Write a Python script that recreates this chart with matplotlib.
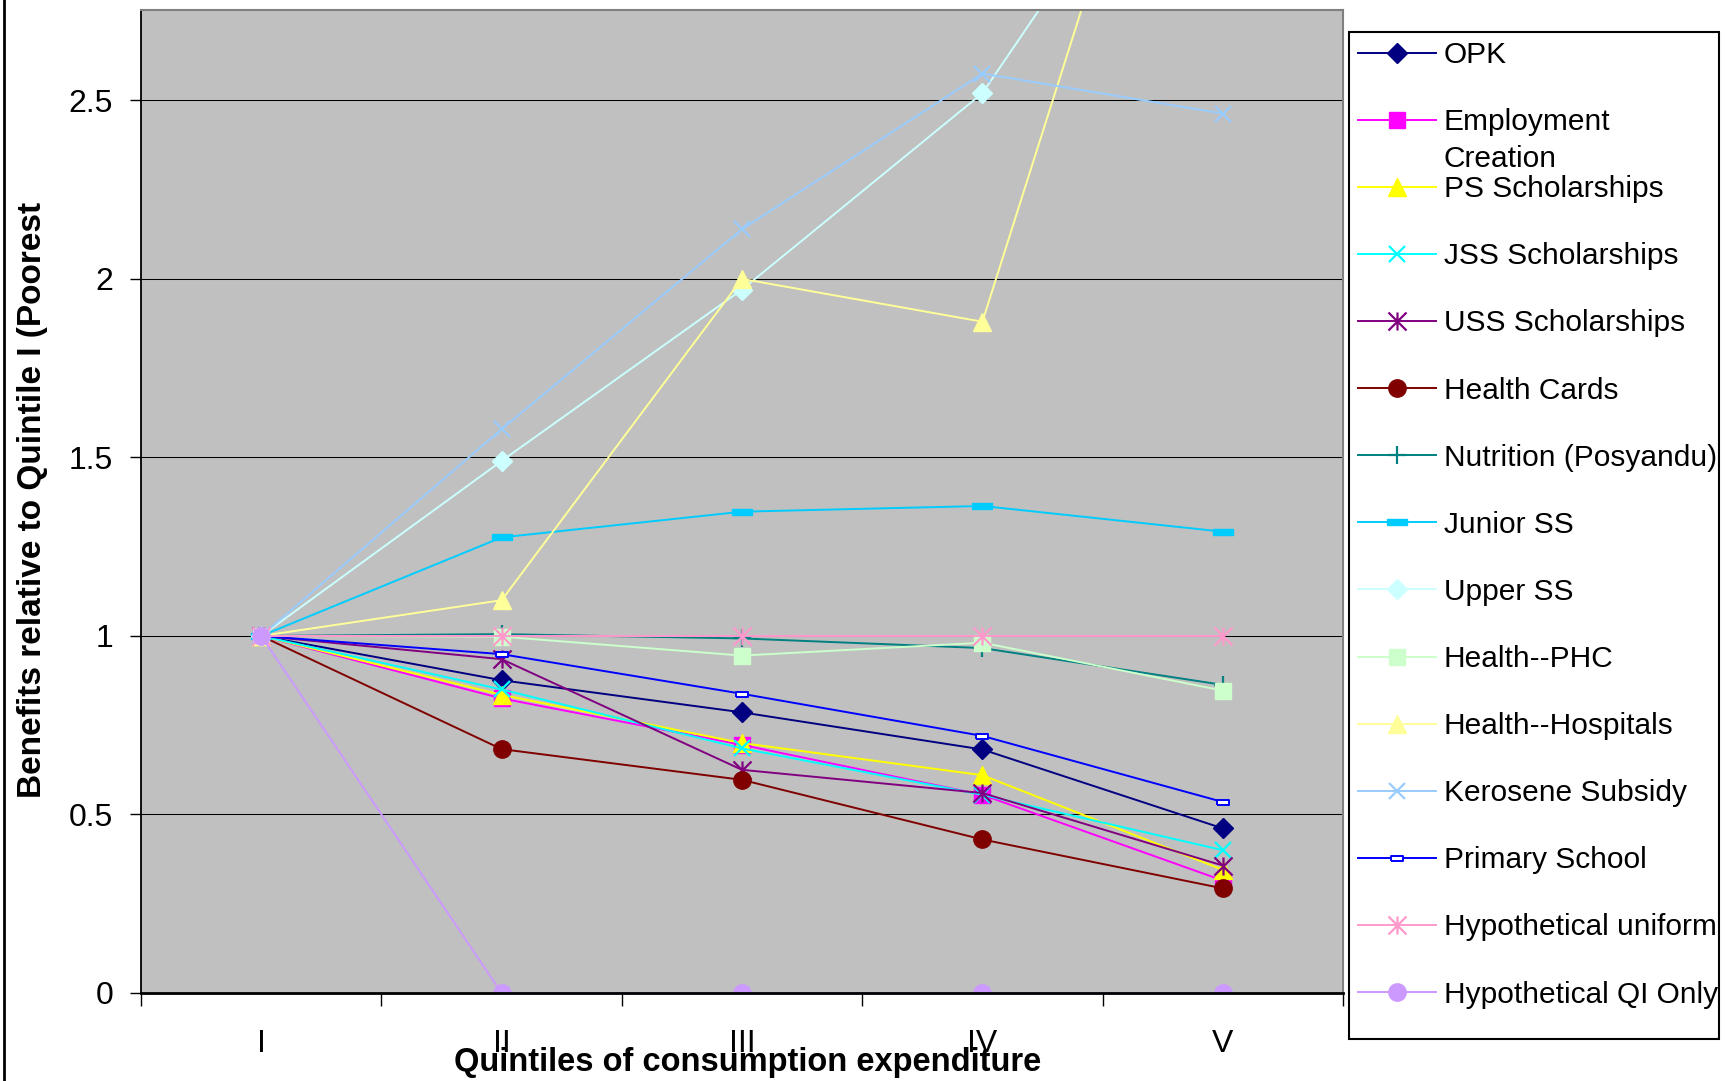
import matplotlib
matplotlib.use("Agg")
import matplotlib.pyplot as plt
from matplotlib.patches import Rectangle
from matplotlib.lines import Line2D
from matplotlib.path import Path
from matplotlib.text import Annotation

plt.rcParams['font.family'] = ['Liberation Sans', 'DejaVu Sans']

quintiles = ["I", "II", "III", "IV", "V"]

opk = [1, 0.876, 0.786, 0.682, 0.461]
employment = [1, 0.825, 0.695, 0.555, 0.315]
ps_schol = [1, 0.835, 0.70, 0.61, 0.345]
jss_schol = [1, 0.85, 0.685, 0.555, 0.40]
uss_schol = [1, 0.935, 0.625, 0.56, 0.357]
health_cards = [1, 0.683, 0.597, 0.43, 0.293]
nutrition = [1, 1.005, 0.993, 0.966, 0.863]
junior_ss = [1, 1.276, 1.348, 1.364, 1.292]
upper_ss = [1, 1.49, 1.97, 2.52, 3.51]
health_phc = [1, 0.998, 0.945, 0.981, 0.847]
health_hosp = [1, 1.10, 2.00, 1.88, 4.0]
kerosene = [1, 1.579, 2.139, 2.575, 2.463]
primary = [1, 0.949, 0.838, 0.72, 0.535]
hyp_uniform = [1, 1, 1, 1, 1]
hyp_qi_only = [1, 0, 0, 0, 0]

yticks = [0, 0.5, 1, 1.5, 2, 2.5]
ytick_labels = ["0", "0.5", "1", "1.5", "2", "2.5"]

# Excel-like markers
star = Path([(-0.5, -0.5), (0.5, 0.5), (-0.5, 0.5), (0.5, -0.5), (0, -0.5), (0, 0.5)],
            [Path.MOVETO, Path.LINETO, Path.MOVETO, Path.LINETO, Path.MOVETO, Path.LINETO])
bar = [(-1, -0.28), (1, -0.28), (1, 0.28), (-1, 0.28), (-1, -0.28)]
small_rect = [(-1, -0.45), (1, -0.45), (1, 0.45), (-1, 0.45), (-1, -0.45)]

# name, values, colour, marker, size, filled
series = [
    ("OPK", opk, "#000080", "D", 10, True),
    ("Employment\nCreation", employment, "#FF00FF", "s", 11.5, True),
    ("PS Scholarships", ps_schol, "#FFFF00", "^", 13, True),
    ("JSS Scholarships", jss_schol, "#00FFFF", "x", 12, False),
    ("USS Scholarships", uss_schol, "#800080", star, 13, False),
    ("Health Cards", health_cards, "#800000", "o", 12.5, True),
    ("Nutrition (Posyandu)", nutrition, "#008080", "+", 13, False),
    ("Junior SS", junior_ss, "#00CCFF", bar, 14, True),
    ("Upper SS", upper_ss, "#CCFFFF", "D", 10, True),
    ("Health--PHC", health_phc, "#CCFFCC", "s", 11.5, True),
    ("Health--Hospitals", health_hosp, "#FFFF99", "^", 13, True),
    ("Kerosene Subsidy", kerosene, "#99CCFF", "x", 12, False),
    ("Primary School", primary, "#0000FF", small_rect, 8, True),
    ("Hypothetical uniform", hyp_uniform, "#FF99CC", star, 13, False),
    ("Hypothetical QI Only", hyp_qi_only, "#CC99FF", "o", 12.5, True),
]

W, H = 1729, 1081
fig = plt.figure(figsize=(W / 100, H / 100), dpi=100)
ax = fig.add_axes([141 / W, 1 - 993 / H, (1343 - 141) / W, (993 - 10) / H])
ax.set_facecolor("#C0C0C0")

x = list(range(len(quintiles)))
handles = []
for name, vals, col, mk, ms, filled in series:
    kw = dict(color=col, lw=1.4, marker=mk, markersize=ms, mec=col)
    if filled:
        kw["mfc"] = col
        kw["mew"] = 1
    else:
        kw["mew"] = 1.6
    if name == "Primary School":
        kw["mfc"] = "white"
        kw["mew"] = 1.4
    ln, = ax.plot(x, vals, label=name, **kw)
    handles.append(ln)

ax.set_xlim(-0.5, len(quintiles) - 0.5)
ax.set_ylim(0, 2.753)
ax.set_xticks([i - 0.5 for i in range(len(quintiles) + 1)], labels=[])
ax.set_xticks(x, labels=quintiles, minor=True)
ax.tick_params(axis="x", which="major", length=9, width=1, direction="out")
ax.tick_params(axis="x", which="minor", length=0, pad=26, labelsize=23)
ax.set_yticks(yticks, labels=ytick_labels)
ax.tick_params(axis="y", length=8, width=1, pad=12, labelsize=23, direction="out")
ax.yaxis.grid(True, color="black", lw=0.75)
ax.set_axisbelow(True)
for s in ("top", "right"):
    ax.spines[s].set_color("#808080")
    ax.spines[s].set_linewidth(1.5)
ax.spines["left"].set_linewidth(1.3)
ax.spines["bottom"].set_linewidth(2)

fig.text(748 / W, 1 - 1071 / H, "Quintiles of consumption expenditure",
         ha="center", va="baseline", fontsize=23.5, fontweight="bold", zorder=10)
fig.text(33 / W, 1 - 500 / H, "Benefits relative to Quintile I (Poorest",
         rotation=90, ha="center", va="center", fontsize=24, fontweight="bold")

# legend: entries from the library, box drawn separately
leg_labels = [s[0].split("\n")[0] for s in series]
leg = fig.legend(handles, leg_labels, loc="upper left",
                 bbox_to_anchor=(1349 / W, 1 - 32 / H), bbox_transform=fig.transFigure,
                 frameon=False, fontsize=21.5, handlelength=2.61, handletextpad=0.27,
                 borderpad=0.3, borderaxespad=0, labelspacing=1.31, numpoints=1)
emp_text = leg.get_texts()[1]
creation = Annotation(series[1][0].split("\n")[1], xy=(0, 0.5), xycoords=emp_text,
                      xytext=(0, -26.5), textcoords="offset points",
                      ha="left", va="center", fontsize=21.5, zorder=10)
fig.add_artist(creation)
fig.add_artist(Rectangle((1349 / W, 1 - 1039 / H), 370 / W, (1039 - 32) / H,
                         transform=fig.transFigure, fill=False, ec="black", lw=1.5))
fig.add_artist(Line2D([4 / W, 4 / W], [0, 1], color="black", lw=2,
                      transform=fig.transFigure))

fig.savefig("out.png", dpi=100)
